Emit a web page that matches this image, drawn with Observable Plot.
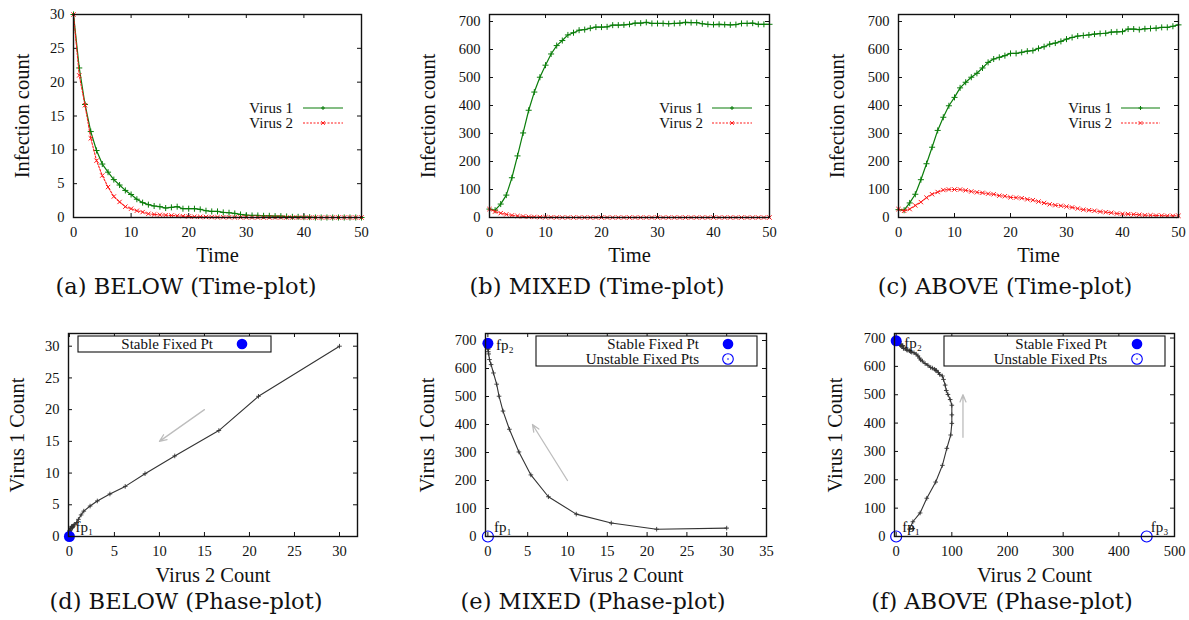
<!DOCTYPE html>
<html><head><meta charset="utf-8">
<script src="https://cdn.jsdelivr.net/npm/d3@7"></script>
<script src="https://cdn.jsdelivr.net/npm/@observablehq/plot@0.6"></script>
<style>
body{margin:0;background:#fff;}
#root{position:relative;width:1189px;height:620px;overflow:hidden;background:#fff;}
.panel{position:absolute;}
.cap{position:absolute;font-family:"DejaVu Serif",serif;font-size:22.5px;white-space:nowrap;transform:translate(-50%,-50%);color:#111;}
</style></head>
<body><div id="root"></div>
<script>
// ---------------- data ----------------
const time = [0,1,2,3,4,5,6,7,8,9,10,11,12,13,14,15,16,17,18,19,20,21,22,23,24,25,26,27,28,29,30,31,32,33,34,35,36,37,38,39,40,41,42,43,44,45,46,47,48,49,50];

const below_v1 = [30,22.1,16.7,12.7,9.9,7.9,6.7,5.6,4.8,4.0,3.4,2.7,2.2,1.9,1.7,1.6,1.4,1.5,1.6,1.3,1.3,1.3,1.2,1.0,0.9,0.9,0.75,0.7,0.6,0.45,0.35,0.3,0.3,0.25,0.25,0.2,0.2,0.15,0.1,0.1,0.05,0.05,0,0,0,0,0,0,0,0,0];
const below_v2 = [30,21.0,16.6,11.7,8.4,6.2,4.5,3.1,2.3,1.6,1.3,1.0,0.8,0.55,0.45,0.4,0.35,0.3,0.25,0.2,0.15,0.12,0.1,0.08,0.06,0.05,0.04,0.03,0.02,0.02,0.01,0,0,0,0,0,0,0,0,0,0,0,0,0,0,0,0,0,0,0,0];

const mixed_v1 = [30,26,48,80,142,220,302,383,448,501,544,584,614,632,652,660,669,671,676,680,680,681,687,687,688,690,694,694,697,693,693,693,692,693,694,697,696,696,692,690,689,690,689,688,689,693,693,694,690,690,690];
const mixed_v2 = [30,21.2,15.5,11.1,7.6,5.4,3.9,2.7,1.9,1.4,1.1,0.7,0.4,0.2,0.1,0.05,0.03,0.02,0.01,0,0,0,0,0,0,0,0,0,0,0,0,0,0,0,0,0,0,0,0,0,0,0,0,0,0,0,0,0,0,0,0];

const above_v1 = [28,26,52,83,135,192,251,311,358,399,429,463,483,501,515,534,554,566,572,578,586,586,590,594,596,604,610,619,623,629,637,643,648,650,652,655,657,658,662,663,664,673,673,671,674,675,676,679,679,683,688];
const above_v2 = [30,24,30,43,55,71,83,91,98,100,100,100,97,93,90,88,85,83,78,76,72,71,69,65,62,57,52,47,44,42,39,36,32,28,26,24,21,19,17,14,13,12,11,10,8,8,7,7,6,6,6];

const seriesNames = ["Virus 1", "Virus 2"];
const captions = ["(a) BELOW (Time-plot)", "(b) MIXED (Time-plot)", "(c) ABOVE (Time-plot)",
                  "(d) BELOW (Phase-plot)", "(e) MIXED (Phase-plot)", "(f) ABOVE (Phase-plot)"];

const ticksTime = [0,10,20,30,40,50];
const ticksSmall = [0,5,10,15,20,25,30];
const ticksBig = [0,100,200,300,400,500,600,700];
const ticksE = [0,5,10,15,20,25,30,35];
const ticksF = [0,100,200,300,400,500];

// fixed points (virus 2 count, virus 1 count)
const fixedD = [{x:0, y:0, label:"fp₁", stable:true}];
const fixedE = [{x:0, y:690, label:"fp₂", stable:true},{x:0, y:0, label:"fp₁", stable:false}];
const fixedF = [{x:0, y:690, label:"fp₂", stable:true},{x:0, y:0, label:"fp₁", stable:false},{x:450, y:0, label:"fp₃", stable:false}];

// direction arrows
const arrowD = [{x1:15, y1:20, x2:10, y2:15}];
const arrowE = [{x1:10, y1:200, x2:5.6, y2:400}];
const arrowF = [{x1:120, y1:350, x2:120, y2:500}];

// ---------------- helpers ----------------
const GREEN = "#0a7d0a", RED = "#ff1a1a", BLUE = "#0000ff", PHASE = "#333";
const root = document.getElementById("root");
const mL = 80, mR = 12, mT = 10, mB = 52;

function series(v1, v2) {
  return time.map((t, i) => ({t, v1: v1[i], v2: v2[i]}));
}

function panel(cfg) {
  const iw = cfg.fx1 - cfg.fx0, ih = cfg.fy1 - cfg.fy0;
  const svg = Plot.plot({
    width: mL + iw + mR, height: mT + ih + mB,
    marginLeft: mL, marginRight: mR, marginTop: mT, marginBottom: mB,
    x: {domain: cfg.xDomain}, y: {domain: cfg.yDomain},
    style: {fontFamily: "'Liberation Serif', serif", fontSize: "14px", background: "transparent", overflow: "visible", color: "#111"},
    marks: [
      Plot.tickX(cfg.xTicks, {x: d => d, insetTop: ih - 4, stroke: "#111"}),
      Plot.tickX(cfg.xTicks, {x: d => d, insetBottom: ih - 4, stroke: "#111"}),
      Plot.tickY(cfg.yTicks, {y: d => d, insetRight: iw - 4, stroke: "#111"}),
      Plot.tickY(cfg.yTicks, {y: d => d, insetLeft: iw - 4, stroke: "#111"}),
      Plot.axisX(cfg.xTicks, {tickSize: 0, tickPadding: 9, label: null, fontSize: 14.5}),
      Plot.axisY(cfg.yTicks, {tickSize: 0, tickPadding: 9, label: null, fontSize: 14.5}),
      ...cfg.marks,
      Plot.frame({stroke: "#111", strokeWidth: 1.4}),
      Plot.text([cfg.xLabel], {text: d => d, frameAnchor: "bottom", dy: cfg.xLabelY - cfg.fy1, fontSize: 20.5, lineAnchor: "middle"}),
      Plot.text([cfg.yLabel], {text: d => d, frameAnchor: "left", dx: -(cfg.fx0 - cfg.yLabelX), rotate: -90, fontSize: 20.5, lineAnchor: "middle", textAnchor: "middle"})
    ]
  });
  svg.classList.add("panel");
  svg.style.left = (cfg.fx0 - mL) + "px";
  svg.style.top = (cfg.fy0 - mT) + "px";
  svg.style.position = "absolute";
  root.appendChild(svg);
  if (cfg.legend) cfg.legend(d3.select(svg), (rx) => rx + mL, (ry) => ry + mT);
  return svg;
}

function plusPath(g, x, y, s, color) {
  g.append("path").attr("d", `M${x - s},${y}H${x + s}M${x},${y - s}V${y + s}`).attr("stroke", color).attr("stroke-width", 1).attr("fill", "none");
}
function starPath(g, x, y, s, color) {
  g.append("path").attr("d", `M${x - s},${y - s}L${x + s},${y + s}M${x - s},${y + s}L${x + s},${y - s}`).attr("stroke", color).attr("stroke-width", 1).attr("fill", "none");
}

function timeLegend(textRight, lineStart, lineEnd) {
  return (sel, X, Y) => {
    const g = sel.append("g").attr("font-family", "'Liberation Serif', serif").attr("font-size", 15).attr("fill", "#111");
    const rows = [94, 109];
    seriesNames.forEach((name, i) => {
      g.append("text").attr("x", X(textRight)).attr("y", Y(rows[i])).attr("dy", "0.35em").attr("text-anchor", "end").text(name);
      const line = g.append("line").attr("x1", X(lineStart)).attr("x2", X(lineEnd)).attr("y1", Y(rows[i])).attr("y2", Y(rows[i]))
        .attr("stroke", i === 0 ? GREEN : RED).attr("stroke-width", 1.2);
      if (i === 1) line.attr("stroke-dasharray", "2,1.5");
      const cx = X((lineStart + lineEnd) / 2);
      if (i === 0) plusPath(g, cx, Y(rows[i]), 2, GREEN); else starPath(g, cx, Y(rows[i]), 1.8, RED);
    });
  };
}

function phaseLegend(x0, x1, y1, textRight, markX, withUnstable) {
  return (sel, X, Y) => {
    const g = sel.append("g").attr("font-family", "'Liberation Serif', serif").attr("font-size", 15).attr("fill", "#111");
    g.append("rect").attr("x", X(x0)).attr("y", Y(3)).attr("width", x1 - x0).attr("height", y1 - 3)
      .attr("fill", "#fff").attr("stroke", "#111").attr("stroke-width", 1.1);
    g.append("text").attr("x", X(textRight)).attr("y", Y(11)).attr("dy", "0.35em").attr("text-anchor", "end").text("Stable Fixed Pt");
    g.append("circle").attr("cx", X(markX)).attr("cy", Y(11)).attr("r", 5.3).attr("fill", BLUE);
    if (withUnstable) {
      g.append("text").attr("x", X(textRight)).attr("y", Y(26)).attr("dy", "0.35em").attr("text-anchor", "end").text("Unstable Fixed Pts");
      g.append("circle").attr("cx", X(markX)).attr("cy", Y(26)).attr("r", 5.3).attr("fill", "none").attr("stroke", BLUE).attr("stroke-width", 1.1);
      g.append("circle").attr("cx", X(markX)).attr("cy", Y(26)).attr("r", 0.8).attr("fill", BLUE);
    }
  };
}

function timeMarks(data) {
  return [
    Plot.line(data, {x: "t", y: "v1", stroke: GREEN, strokeWidth: 1.2}),
    Plot.dot(data, {x: "t", y: "v1", symbol: "plus", r: 2.1, stroke: GREEN, strokeWidth: 1}),
    Plot.line(data, {x: "t", y: "v2", stroke: RED, strokeWidth: 1.1, strokeDasharray: "2,1.5"}),
    Plot.dot(data, {x: "t", y: "v2", symbol: "times", r: 2.1, stroke: RED, strokeWidth: 1})
  ];
}

const labelOffset = {"fp₁": [6, -9], "fp₂": [8, 2], "fp₃": [4, -9]};

function phaseMarks(data, fixed, arrows) {
  const stable = fixed.filter(d => d.stable), unstable = fixed.filter(d => !d.stable);
  return [
    Plot.arrow(arrows, {x1: "x1", y1: "y1", x2: "x2", y2: "y2", stroke: "#bdbdbd", strokeWidth: 1.3, headLength: 9, headAngle: 45}),
    Plot.line(data, {x: "v2", y: "v1", stroke: PHASE, strokeWidth: 1.1}),
    Plot.dot(data, {x: "v2", y: "v1", symbol: "plus", r: 1.6, stroke: PHASE, strokeWidth: 0.9}),
    Plot.dot(stable, {x: "x", y: "y", r: 5.5, fill: BLUE}),
    Plot.dot(unstable, {x: "x", y: "y", r: 5.5, stroke: BLUE, fill: "none", strokeWidth: 1.2}),
    ...fixed.map(f => Plot.text([f], {x: "x", y: "y", text: "label", textAnchor: "start", fontSize: 15,
      dx: labelOffset[f.label][0], dy: labelOffset[f.label][1]}))
  ];
}

// ---------------- panels ----------------
const dA = series(below_v1, below_v2), dB = series(mixed_v1, mixed_v2), dC = series(above_v1, above_v2);

panel({fx0: 73, fx1: 361, fy0: 14, fy1: 217, xDomain: [0, 50], yDomain: [0, 30], xTicks: ticksTime, yTicks: ticksSmall,
  xLabel: "Time", yLabel: "Infection count", xLabelY: 255, yLabelX: 22, marks: timeMarks(dA), legend: timeLegend(220, 230, 270)});
panel({fx0: 489, fx1: 769, fy0: 14, fy1: 217, xDomain: [0, 50], yDomain: [0, 725], xTicks: ticksTime, yTicks: ticksBig,
  xLabel: "Time", yLabel: "Infection count", xLabelY: 255, yLabelX: 428, marks: timeMarks(dB), legend: timeLegend(214, 223, 263)});
panel({fx0: 898, fx1: 1178, fy0: 14, fy1: 217, xDomain: [0, 50], yDomain: [0, 725], xTicks: ticksTime, yTicks: ticksBig,
  xLabel: "Time", yLabel: "Infection count", xLabelY: 255, yLabelX: 837, marks: timeMarks(dC), legend: timeLegend(214, 223, 262)});

panel({fx0: 68, fx1: 357, fy0: 333, fy1: 536, xDomain: [-0.1, 32], yDomain: [0, 32], xTicks: ticksSmall, yTicks: ticksSmall,
  xLabel: "Virus 2 Count", yLabel: "Virus 1 Count", xLabelY: 575, yLabelX: 17, marks: phaseMarks(dA, fixedD, arrowD),
  legend: phaseLegend(10, 203, 19, 145, 174, false)});
panel({fx0: 485, fx1: 766, fy0: 333, fy1: 536, xDomain: [-0.3, 35], yDomain: [0, 725], xTicks: ticksE, yTicks: ticksBig,
  xLabel: "Virus 2 Count", yLabel: "Virus 1 Count", xLabelY: 575, yLabelX: 427, marks: phaseMarks(dB, fixedE, arrowE),
  legend: phaseLegend(51, 272, 33, 214, 243, true)});
panel({fx0: 894, fx1: 1174, fy0: 333, fy1: 536, xDomain: [-3, 500], yDomain: [0, 716], xTicks: ticksF, yTicks: ticksBig,
  xLabel: "Virus 2 Count", yLabel: "Virus 1 Count", xLabelY: 575, yLabelX: 835, marks: phaseMarks(dC, fixedF, arrowF),
  legend: phaseLegend(50, 271, 33, 213, 243, true)});

// ---------------- captions ----------------
const capPos = [[186, 286], [597, 286], [1005, 286], [186, 601], [593, 601], [1002, 601]];
captions.forEach((c, i) => {
  const div = document.createElement("div");
  div.className = "cap";
  div.textContent = c;
  div.style.left = capPos[i][0] + "px";
  div.style.top = capPos[i][1] + "px";
  root.appendChild(div);
});
</script>
</body></html>
